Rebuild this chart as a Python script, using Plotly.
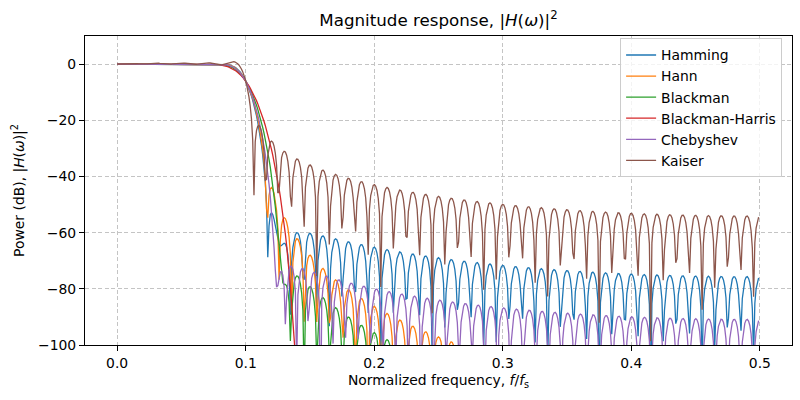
import numpy as np
import plotly.graph_objects as go

# ---- filter parameters ----
window_names = ["Hamming", "Hann", "Blackman", "Blackman-Harris", "Chebyshev", "Kaiser"]
colors = ["#1f77b4", "#ff7f0e", "#2ca02c", "#d62728", "#9467bd", "#8c564b"]
num_taps = 101
cutoff = 0.1          # f/fs, -6 dB point
n_freq = 512          # frequency samples from 0 to fs/2
kaiser_beta = 0.5
cheb_atten_db = 60.0
x_ticks = [0.0, 0.1, 0.2, 0.3, 0.4, 0.5]
y_ticks = [0, -20, -40, -60, -80, -100]


def cosine_window(M, coeffs):
    n = np.arange(M)
    w = np.zeros(M)
    for k, a in enumerate(coeffs):
        w += ((-1) ** k) * a * np.cos(2 * np.pi * k * n / (M - 1))
    return w


def chebwin(M, at):
    order = M - 1.0
    beta = np.cosh(1.0 / order * np.arccosh(10 ** (abs(at) / 20.0)))
    k = np.arange(M) * 1.0
    x = beta * np.cos(np.pi * k / M)
    p = np.zeros(x.shape)
    p[x > 1] = np.cosh(order * np.arccosh(x[x > 1]))
    p[x < -1] = (2 * (M % 2) - 1) * np.cosh(order * np.arccosh(-x[x < -1]))
    m = np.abs(x) <= 1
    p[m] = np.cos(order * np.arccos(x[m]))
    if M % 2:
        w = np.real(np.fft.fft(p))
        n = (M + 1) // 2
        w = w[:n]
        w = np.concatenate((w[n - 1:0:-1], w))
    else:
        p = p * np.exp(1.0j * np.pi / M * np.arange(M))
        w = np.real(np.fft.fft(p))
        n = M // 2 + 1
        w = np.concatenate((w[n - 1:0:-1], w[1:n]))
    return w / np.max(w)


def get_window(name, M):
    if name == "Hamming":
        return np.hamming(M)
    if name == "Hann":
        return np.hanning(M)
    if name == "Blackman":
        return np.blackman(M)
    if name == "Blackman-Harris":
        return cosine_window(M, [0.35875, 0.48829, 0.14128, 0.01168])
    if name == "Chebyshev":
        return chebwin(M, cheb_atten_db)
    if name == "Kaiser":
        return np.kaiser(M, kaiser_beta)


def fir_response(name):
    n = np.arange(num_taps) - (num_taps - 1) / 2
    h = 2 * cutoff * np.sinc(2 * cutoff * n) * get_window(name, num_taps)
    h = h / np.sum(h)
    f = np.arange(n_freq) / n_freq * 0.5
    H = np.exp(-2j * np.pi * np.outer(f, np.arange(num_taps))) @ h
    db = 20 * np.log10(np.abs(H) + 1e-300)
    return f, db


fig = go.Figure()
for name, col in zip(window_names, colors):
    f, db = fir_response(name)
    fig.add_trace(go.Scatter(x=f, y=db, mode="lines", name=name,
                             line=dict(color=col, width=1.3)))

font = "DejaVu Sans"
axis_common = dict(
    showline=True, linecolor="black", linewidth=1.1, mirror=True,
    ticks="outside", ticklen=5, tickcolor="black", tickwidth=1.1,
    showgrid=True, gridcolor="#c4c4c4", griddash="4px,2.5px", gridwidth=0.9,
    zeroline=False, tickfont=dict(family=font, size=13.9, color="black"),
)

fig.update_layout(
    width=800, height=400,
    paper_bgcolor="white", plot_bgcolor="white",
    margin=dict(l=85, r=8, t=36, b=55),
    title=dict(text="Magnitude response, |<i>H</i>(<i>ω</i>)|<sup>2</sup>",
               x=0.5, xanchor="center", xref="paper",
               y=1 - 20 / 400, yanchor="middle",
               font=dict(family=font, size=16.7, color="black")),
    xaxis=dict(axis_common, range=[-0.025, 0.525], tickvals=x_ticks,
               ticktext=[f"{v:.1f}" for v in x_ticks],
               title=dict(text="Normalized frequency, <i>f</i>/<i>f</i><sub>s</sub>",
                          font=dict(family=font, size=13.9, color="black"), standoff=5)),
    yaxis=dict(axis_common, range=[-100, 10], tickvals=y_ticks,
               title=dict(text="Power (dB), |<i>H</i>(<i>ω</i>)|<sup>2</sup>",
                          font=dict(family=font, size=13.9, color="black"), standoff=10)),
    legend=dict(x=0.986, y=0.992, xanchor="right", yanchor="top",
                bgcolor="rgba(255,255,255,0.8)", bordercolor="#cccccc", borderwidth=1,
                font=dict(family=font, size=13.9, color="black"),
                tracegroupgap=0, itemwidth=30),
    showlegend=True,
)

fig.write_html("out.html", config={"displayModeBar": False},
               post_script="document.body.style.margin='0';")
